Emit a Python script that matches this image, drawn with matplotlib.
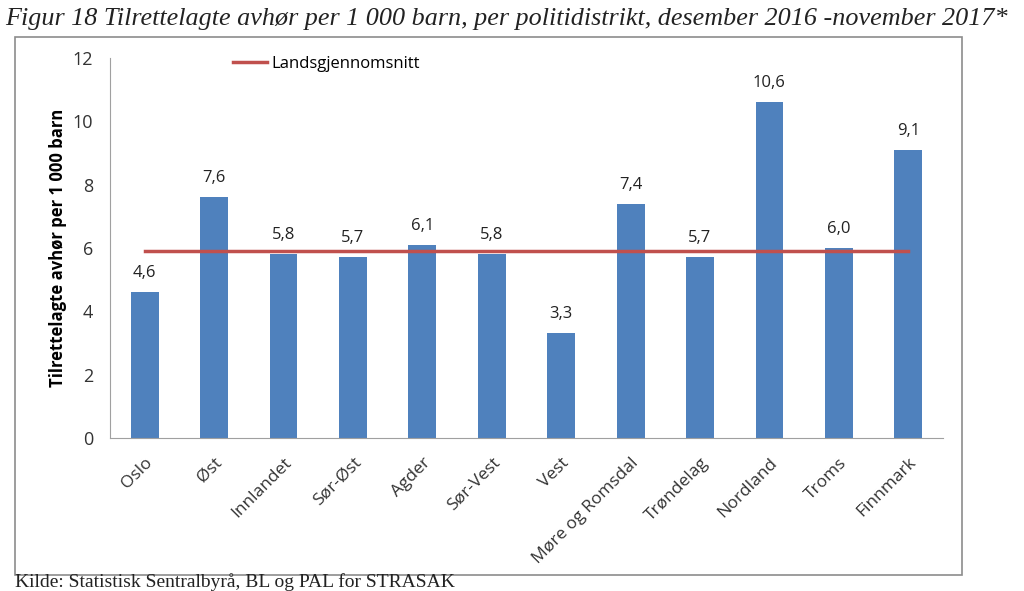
import matplotlib.pyplot as plt
from matplotlib.patches import Rectangle

# Data
districts = ['Oslo', 'Øst', 'Innlandet', 'Sør-Øst', 'Agder', 'Sør-Vest', 'Vest',
             'Møre og Romsdal', 'Trøndelag', 'Nordland', 'Troms', 'Finnmark']
values = [4.6, 7.6, 5.8, 5.7, 6.1, 5.8, 3.3, 7.4, 5.7, 10.6, 6.0, 9.1]
value_labels = ['4,6', '7,6', '5,8', '5,7', '6,1', '5,8', '3,3', '7,4', '5,7', '10,6', '6,0', '9,1']
national_avg = 5.9
y_ticks = [0, 2, 4, 6, 8, 10, 12]

title = 'Figur 18 Tilrettelagte avhør per 1 000 barn, per politidistrikt, desember 2016 -november 2017*'
source = 'Kilde: Statistisk Sentralbyrå, BL og PAL for STRASAK'

bar_color = '#4F81BD'
line_color = '#C0504D'
sans = 'Open Sans'

fig = plt.figure(figsize=(10.24, 5.91), dpi=100)
ax = fig.add_axes([0.1074, 0.2589, 0.8135, 0.643])

x = range(len(districts))
ax.bar(x, values, width=0.4, color=bar_color)
ax.plot([0, len(districts) - 1], [national_avg, national_avg], color=line_color,
        linewidth=2.5, label='Landsgjennomsnitt')

for xi, v, lab in zip(x, values, value_labels):
    ax.text(xi, v + 0.35, lab, ha='center', va='bottom', fontsize=12, family=sans, color='#222222')

ax.set_xlim(-0.5, len(districts) - 0.5)
ax.set_ylim(0, 12)
ax.set_yticks(y_ticks)
ax.set_yticklabels([str(t) for t in y_ticks], fontsize=13, family=sans, color='#333333')
ax.set_xticks(list(x))
ax.set_xticklabels(districts, rotation=45, ha='right', rotation_mode='anchor',
                   fontsize=12.5, family=sans, color='#333333')
ax.tick_params(axis='y', length=0, pad=12)
ax.tick_params(axis='x', length=0, pad=12)
ax.set_ylabel('Tilrettelagte avhør per 1 000 barn', fontsize=12, family=sans,
              fontweight='bold', labelpad=4)

for side in ['top', 'right']:
    ax.spines[side].set_visible(False)
for side in ['left', 'bottom']:
    ax.spines[side].set_color('#A0A0A0')

ax.legend(loc='upper left', bbox_to_anchor=(0.13, 1.045), frameon=False,
          handlelength=2.0, handletextpad=0.3, prop={'family': sans, 'size': 12})

# border around chart area
fig.patches.append(Rectangle((15 / 1024, 1 - 575 / 591), 947 / 1024, 538 / 591,
                             transform=fig.transFigure, fill=False,
                             edgecolor='#8C8C8C', linewidth=1.2))

fig.text(5 / 1024, 1 - 19 / 591, title, fontsize=18.8, family='Liberation Serif',
         style='italic', va='center', ha='left', color='#222222')
fig.text(15 / 1024, 1 - 591 / 591, source, fontsize=14, family='Liberation Serif',
         va='bottom', ha='left', color='#222222')

fig.savefig('out.png', dpi=100)
